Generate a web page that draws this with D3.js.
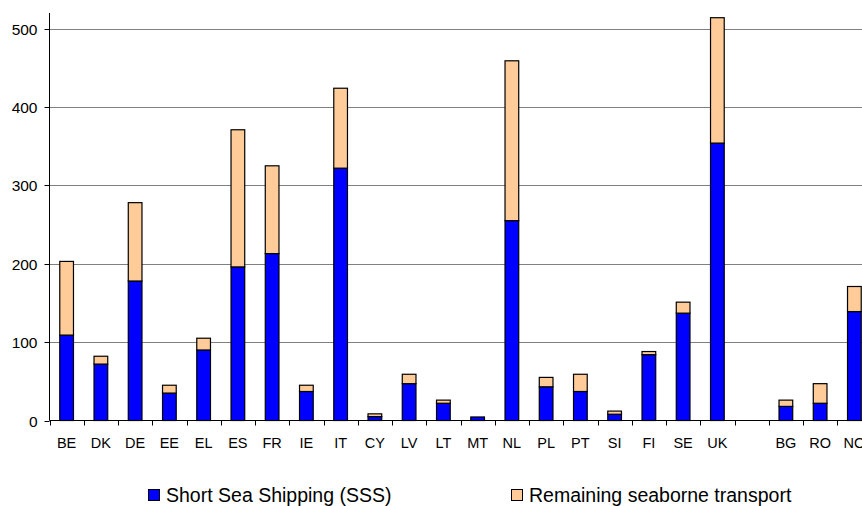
<!DOCTYPE html>
<html>
<head>
<meta charset="utf-8">
<script src="https://cdn.jsdelivr.net/npm/d3@7/dist/d3.min.js"></script>
<style>
  html, body { margin: 0; padding: 0; background: #fff; }
  svg { display: block; font-family: "Liberation Sans", Arial, sans-serif; }
</style>
</head>
<body>
<svg id="chart" width="862" height="506"></svg>
<script>
// Countries (the empty slot separates the candidate countries)
const categories = ["BE","DK","DE","EE","EL","ES","FR","IE","IT","CY","LV","LT","MT","NL","PL","PT","SI","FI","SE","UK","","BG","RO","NO"];
// Short Sea Shipping volumes
const sss =        [109, 72, 178, 35, 90, 196, 213, 37, 322, 5, 47, 22, 4.5, 255, 43, 37, 8, 84, 137, 354, null, 18, 22, 139];
// Remaining seaborne transport volumes
const remaining =  [94, 10, 100, 10, 15, 175, 112, 8, 102, 3.5, 12, 4, 0, 204, 12, 22, 4, 4, 14, 160, null, 8, 25, 32];
const yTicks = [0, 100, 200, 300, 400, 500];
const seriesNames = ["Short Sea Shipping (SSS)", "Remaining seaborne transport"];
const seriesColors = ["#0000FF", "#FFCC99"];

const svg = d3.select("#chart");
const plotLeft = 49.5, plotBottom = 420.5, plotTop = 13;
const step = 34.25;

const x = d3.scaleBand()
  .domain(categories)
  .range([plotLeft, plotLeft + categories.length * step])
  .paddingInner(0.6)
  .paddingOuter(0.3);

const y = d3.scaleLinear().domain([0, 520]).range([plotBottom, plotTop]);

// horizontal gridlines
svg.append("g")
  .selectAll("line")
  .data(yTicks.filter(d => d > 0))
  .join("line")
  .attr("x1", plotLeft)
  .attr("x2", 862)
  .attr("y1", d => Math.round(y(d)) + 0.5)
  .attr("y2", d => Math.round(y(d)) + 0.5)
  .attr("stroke", "#808080")
  .attr("stroke-width", 1);

// stacked bars
const rows = categories.map((c, i) => ({ cat: c, sss: sss[i], remaining: remaining[i] }))
  .filter(d => d.sss !== null);
const stacked = d3.stack().keys(["sss", "remaining"])(rows);

svg.append("g")
  .selectAll("g")
  .data(stacked)
  .join("g")
  .attr("fill", (d, i) => seriesColors[i])
  .selectAll("rect")
  .data(d => d.filter(s => s[1] - s[0] > 0))
  .join("rect")
  .attr("x", d => x(d.data.cat))
  .attr("width", x.bandwidth())
  .attr("y", d => y(d[1]))
  .attr("height", d => y(d[0]) - y(d[1]))
  .attr("stroke", "#000")
  .attr("stroke-width", 1.2);

// y axis
const yAxis = svg.append("g").attr("transform", `translate(${plotLeft},0)`);
yAxis.append("line")
  .attr("x1", 0).attr("x2", 0)
  .attr("y1", plotTop).attr("y2", plotBottom)
  .attr("stroke", "#000");
yAxis.selectAll("g.tick")
  .data(yTicks)
  .join("g")
  .attr("class", "tick")
  .attr("transform", d => `translate(0,${Math.round(y(d)) + 0.5})`)
  .call(g => g.append("line").attr("x1", -5).attr("x2", 0).attr("stroke", "#000"))
  .call(g => g.append("text")
    .attr("x", -12)
    .attr("dy", "0.36em")
    .attr("text-anchor", "end")
    .attr("font-size", "15.5px")
    .attr("fill", "#000")
    .text(d => d));

// x axis with ticks between categories
const xAxis = svg.append("g");
xAxis.append("line")
  .attr("x1", plotLeft).attr("x2", 862)
  .attr("y1", plotBottom).attr("y2", plotBottom)
  .attr("stroke", "#000");
xAxis.selectAll("line.tick")
  .data(d3.range(categories.length + 1))
  .join("line")
  .attr("class", "tick")
  .attr("x1", i => Math.round(x.range()[0] + i * x.step()) + 0.5)
  .attr("x2", i => Math.round(x.range()[0] + i * x.step()) + 0.5)
  .attr("y1", plotBottom)
  .attr("y2", plotBottom + 5)
  .attr("stroke", "#000");
xAxis.selectAll("text")
  .data(categories)
  .join("text")
  .attr("x", d => x(d) + x.bandwidth() / 2)
  .attr("y", 448)
  .attr("text-anchor", "middle")
  .attr("font-size", "14.5px")
  .attr("fill", "#000")
  .text(d => d);

// legend
const legendX = [148, 511];
const legend = svg.append("g")
  .selectAll("g")
  .data(seriesNames)
  .join("g")
  .attr("transform", (d, i) => `translate(${legendX[i]},489)`);
legend.append("rect")
  .attr("x", 0.5).attr("y", 0.5)
  .attr("width", 11).attr("height", 11)
  .attr("fill", (d, i) => seriesColors[i])
  .attr("stroke", "#000");
legend.append("text")
  .attr("x", 18)
  .attr("y", 12.5)
  .attr("font-size", "19.5px")
  .attr("fill", "#000")
  .text(d => d);
</script>
</body>
</html>
